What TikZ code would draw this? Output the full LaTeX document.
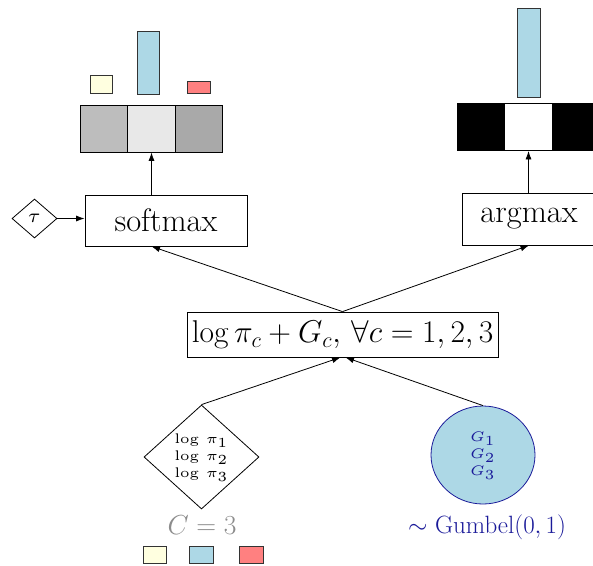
\RequirePackage{fix-cm}
\documentclass[tikz,border=0pt]{standalone}
\usepackage{graphicx}
\usetikzlibrary{shapes.geometric,arrows.meta}
\definecolor{lyellow}{HTML}{FFFFE0}
\definecolor{lblue}{HTML}{ADD8E6}
\definecolor{lred}{HTML}{FF8080}
\definecolor{gA}{HTML}{BDBDBD}
\definecolor{gB}{HTML}{E8E8E8}
\definecolor{gC}{HTML}{A9A9A9}
\definecolor{navyb}{HTML}{1A1A99}
\newcommand{\blowup}[1]{\scalebox{2.78}{#1}}
\begin{document}
\begin{tikzpicture}[x=1pt,y=-1pt,line width=0.8pt,
  cell/.style={draw,rectangle,inner sep=0,minimum width=47.5pt,minimum height=47pt},
  bar/.style={draw=black!80,line width=0.6pt,rectangle,inner sep=0},
  opbox/.style={draw,rectangle,inner sep=0,font=\fontsize{32.5}{38}\selectfont},
  arr/.style={-{Latex[length=8.5pt,width=6pt]}}]
\useasboundingbox (0,0) rectangle (593,565);
% softmax output cells
\node[cell,fill=gA] (s1) at (104,128.5) {};
\node[cell,fill=gB] (s2) at (151.5,128.5) {};
\node[cell,fill=gC] (s3) at (199,128.5) {};
% softmax bars
\node[bar,fill=lyellow,minimum width=22pt,minimum height=18pt] (sb1) at (101,84) {};
\node[bar,fill=lblue,minimum width=22pt,minimum height=63pt] (sb2) at (148,62.5) {};
\node[bar,fill=lred,minimum width=23pt,minimum height=12pt] (sb3) at (198.5,87) {};
% argmax output cells
\node[cell,fill=black] (a1) at (481,127) {};
\node[cell,fill=white] (a2) at (528.5,127) {};
\node[cell,fill=black] (a3) at (576,127) {};
\node[bar,fill=lblue,minimum width=23pt,minimum height=89pt] (ab2) at (528.5,52.5) {};
% operations
\node[opbox,minimum width=162pt,minimum height=51pt] (soft) at (166,220.5) {softmax};
\node[opbox,minimum width=134pt,minimum height=52pt] (argm) at (529,219) {argmax};
\node[draw,diamond,inner sep=0,minimum width=45pt,minimum height=39pt] (tau) at (34.5,218.5) {\blowup{\scriptsize$\tau$}};
\node[opbox,font=\fontsize{31.5}{36}\selectfont,minimum width=311pt,minimum height=45pt] (cn) at (342.5,334.5) {$\log\pi_c+G_c,\,\forall c=1,2,3$};
% inputs
\node[draw,diamond,inner sep=0,minimum width=115pt,minimum height=102pt] (logits) at (201.5,457) {\blowup{\tiny\begin{tabular}{@{}c@{}}$\log\,\pi_1$\\$\log\,\pi_2$\\$\log\,\pi_3$\end{tabular}}};
\node[draw=navyb,fill=lblue,ellipse,inner sep=0,minimum width=104pt,minimum height=98pt,text=navyb] (gum) at (483,455) {\blowup{\tiny\begin{tabular}{@{}c@{}}$G_1$\\$G_2$\\$G_3$\end{tabular}}};
\node[text=black!45,font=\fontsize{27.5}{32}\selectfont] (cc) at (202,525.5) {$C=3$};
\node[text=navyb,font=\fontsize{25}{30}\selectfont] (gl) at (487,527) {$\sim$ Gumbel$(0,1)$};
\node[bar,fill=lyellow,minimum width=23pt,minimum height=17pt] (k1) at (154.5,554.5) {};
\node[bar,fill=lblue,minimum width=24pt,minimum height=17pt] (k2) at (201,554.5) {};
\node[bar,fill=lred,minimum width=24pt,minimum height=17pt] (k3) at (251,554.5) {};
% connectors
\draw[arr] (tau.east) -- (tau.east -| soft.west);
\draw[arr] (s2.south |- soft.north) -- (s2.south);
\draw[arr] (a2.south |- argm.north) -- (a2.south);
\draw[arr] (cn.north) -- (s2.south |- soft.south);
\draw[arr] (cn.north) -- (argm.south);
\draw[arr] (logits.north) -- ([xshift=-2pt]cn.south);
\draw[arr] (gum.north) -- ([xshift=3pt]cn.south);
\end{tikzpicture}
\end{document}
